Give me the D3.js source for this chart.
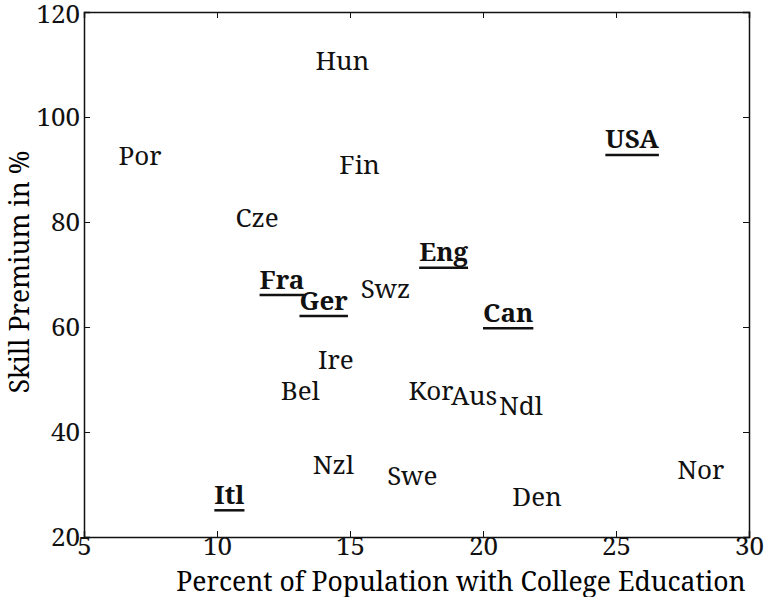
<!DOCTYPE html>
<html>
<head>
<meta charset="utf-8">
<script src="https://cdn.jsdelivr.net/npm/d3@7"></script>
<style>
  body { margin: 0; background: #fff; }
</style>
</head>
<body>
<div id="chart"></div>
<script>
// data: country labels placed at (college %, skill premium %)
var countries = ["Hun", "Por", "USA", "Fin", "Cze", "Eng", "Fra", "Ger", "Swz", "Can",
                 "Ire", "Bel", "Kor", "Aus", "Ndl", "Nzl", "Swe", "Nor", "Itl", "Den"];
var college = [13.7, 6.3, 24.6, 14.6, 10.7, 17.6, 11.6, 13.1, 15.4, 20.0,
               13.8, 12.4, 17.2, 18.8, 20.6, 13.6, 16.4, 27.3, 9.9, 21.1];
var premium = [110.6, 92.5, 94.5, 90.8, 80.7, 73.0, 67.8, 63.8, 67.3, 61.5,
               53.7, 47.9, 47.9, 46.8, 44.9, 33.7, 31.7, 32.7, 26.8, 27.7];
var highlighted = ["USA", "Eng", "Fra", "Ger", "Can", "Itl"];
var xTicks = [5, 10, 15, 20, 25, 30];
var yTicks = [20, 40, 60, 80, 100, 120];

var width = 764, height = 597;
var margin = {top: 12, right: 15, bottom: 60, left: 84};
var font = "'Noto Serif'";
var fs = 26;

var svg = d3.select("#chart").append("svg")
    .attr("width", width).attr("height", height);

var x = d3.scaleLinear().domain([5, 30]).range([margin.left, width - margin.right]);
var y = d3.scaleLinear().domain([20, 120]).range([height - margin.bottom, margin.top]);

// axes with inward ticks
var bottom = svg.append("g").attr("transform", "translate(0," + y(20) + ")")
    .call(d3.axisBottom(x).tickValues(xTicks).tickSize(-6).tickPadding(8));
svg.append("g").attr("transform", "translate(0," + y(120) + ")")
    .call(d3.axisTop(x).tickValues(xTicks).tickSize(-6).tickFormat(""));
var left = svg.append("g").attr("transform", "translate(" + x(5) + ",0)")
    .call(d3.axisLeft(y).tickValues(yTicks).tickSize(-6).tickPadding(4));
svg.append("g").attr("transform", "translate(" + x(30) + ",0)")
    .call(d3.axisRight(y).tickValues(yTicks).tickSize(-6).tickFormat(""));

svg.selectAll(".domain").attr("stroke", "#111").attr("stroke-width", 1.5);
svg.selectAll(".tick line").attr("stroke", "#111");
svg.selectAll(".tick text").attr("fill", "#111")
    .style("font-family", font).style("font-size", fs + "px");
bottom.selectAll(".tick text").attr("dy", "0.4em");
left.selectAll(".tick text").attr("dy", "0.32em");
left.selectAll(".tick text").filter(function(d) { return d === 120; }).attr("dy", "0.42em");

// axis titles
svg.append("text")
    .attr("x", 461).attr("y", 591)
    .attr("text-anchor", "middle")
    .style("font-family", font).style("font-size", "26.5px")
    .text("Percent of Population with College Education");

svg.append("text")
    .attr("transform", "translate(29," + y(70.5) + ") rotate(-90)")
    .attr("text-anchor", "middle")
    .style("font-family", font).style("font-size", "26.5px")
    .text("Skill Premium in %");

// labels
var data = countries.map(function(c, i) {
    return {name: c, x: college[i], y: premium[i], bold: highlighted.indexOf(c) >= 0};
});

var labels = svg.append("g").selectAll("g").data(data).enter().append("g")
    .attr("transform", function(d) { return "translate(" + x(d.x) + "," + y(d.y) + ")"; });

labels.append("text")
    .style("font-family", font).style("font-size", fs + "px")
    .attr("fill", "#111")
    .attr("font-weight", function(d) { return d.bold ? "bold" : "normal"; })
    .attr("dy", function(d) { return d.bold ? "0.1em" : "0.35em"; })
    .text(function(d) { return d.name; });

labels.filter(function(d) { return d.bold; }).each(function() {
    var g = d3.select(this);
    var w = g.select("text").node().getComputedTextLength();
    g.append("line")
        .attr("x1", 0).attr("x2", w)
        .attr("y1", 9).attr("y2", 9)
        .attr("stroke", "#111").attr("stroke-width", 2.5);
});
</script>
</body>
</html>
